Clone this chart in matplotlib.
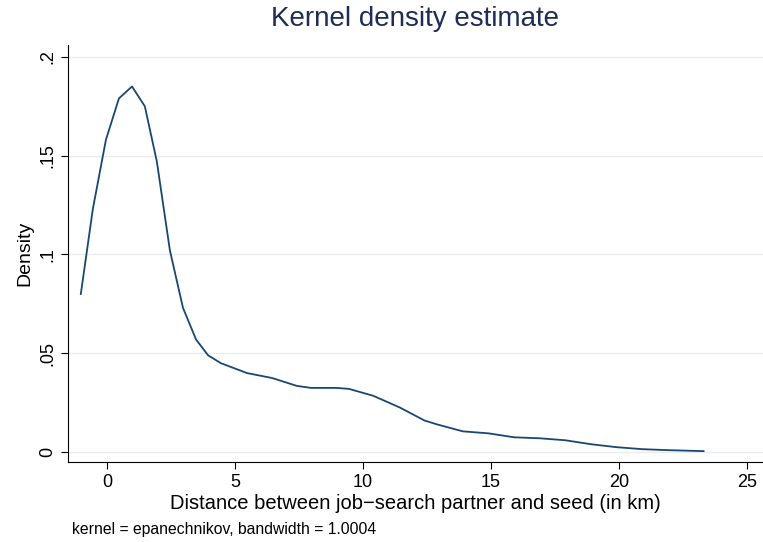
import numpy as np
import matplotlib.pyplot as plt

plt.rcParams['font.family'] = ['Liberation Sans', 'DejaVu Sans']

# values
dist = [-1.02, -0.55, -0.04, 0.47, 0.98, 1.48, 1.95, 2.46, 2.97, 3.48, 3.95, 4.45,
        5.47, 6.45, 7.42, 7.97, 8.95, 9.45, 10.4, 11.45, 12.4, 12.9, 13.9, 14.9,
        15.9, 16.9, 17.9, 18.9, 19.9, 20.9, 21.9, 23.3]
density = [0.080, 0.123, 0.158, 0.179, 0.185, 0.175, 0.147, 0.102, 0.073, 0.057,
           0.049, 0.045, 0.040, 0.0375, 0.0335, 0.0325, 0.0325, 0.032, 0.0285,
           0.0225, 0.016, 0.014, 0.0105, 0.0095, 0.0075, 0.007, 0.006, 0.004,
           0.0025, 0.0015, 0.001, 0.0005]
xticks = [0, 5, 10, 15, 20, 25]
yticks = [0, 0.05, 0.1, 0.15, 0.2]
ylabels = ['0', '.05', '.1', '.15', '.2']

fig = plt.figure(figsize=(7.63, 5.42), dpi=100)
ax = fig.add_axes([68/763, 80/542, 695/763, 417/542])

ax.plot(dist, density, color='#1a476f', lw=1.3)
ax.set_xlim(-1.52, 25.62)
ax.set_ylim(-0.005, 0.206)
ax.set_xticks(xticks)
ax.set_yticks(yticks)
ax.set_yticklabels(ylabels, rotation=90, va='center')
ax.tick_params(labelsize=13, length=5, color='black')
ax.grid(axis='y', color='#e8ecef', lw=1)
ax.set_axisbelow(True)
for s in ['top', 'right']:
    ax.spines[s].set_visible(False)

ax.set_xlabel('Distance between job\u2212search partner and seed (in km)', fontsize=14.5, labelpad=2)
ax.set_ylabel('Density', fontsize=14)
fig.text(415/763, 0.952, 'Kernel density estimate', ha='center', fontsize=20, color='#1e2d55')
fig.text(72/763, 8/542, 'kernel = epanechnikov, bandwidth = 1.0004', fontsize=11.3)

plt.savefig('out.png', dpi=100)
